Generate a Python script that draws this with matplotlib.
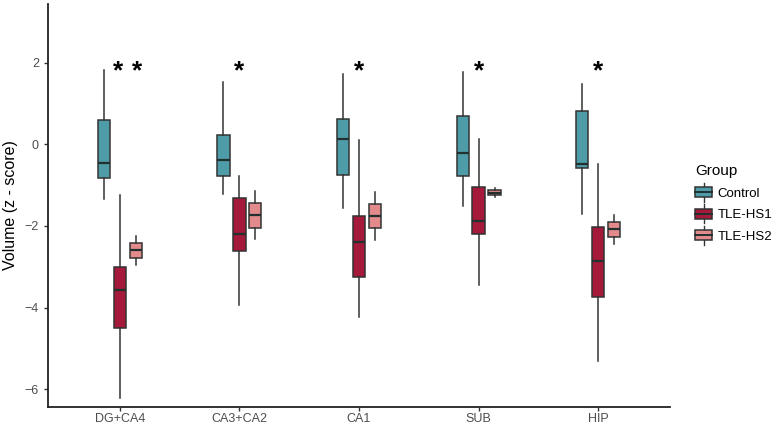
import matplotlib
matplotlib.use("Agg")
import matplotlib.pyplot as plt
from matplotlib.patches import Rectangle
from matplotlib.lines import Line2D
from matplotlib.legend_handler import HandlerBase

plt.rcParams['font.family'] = ['Liberation Sans', 'DejaVu Sans']

regions = ["DG+CA4", "CA3+CA2", "CA1", "SUB", "HIP"]
groups = ["Control", "TLE-HS1", "TLE-HS2"]
colors = ["#4E9CA8", "#A5193A", "#E38A8C"]

# five-number summaries per group across regions
control_lo  = [-1.35, -1.22, -1.57, -1.50, -1.71]
control_q1  = [-0.83, -0.78, -0.74, -0.77, -0.57]
control_med = [-0.45, -0.38, 0.12, -0.22, -0.47]
control_q3  = [0.59, 0.22, 0.61, 0.69, 0.81]
control_hi  = [1.82, 1.53, 1.72, 1.77, 1.49]

hs1_lo  = [-6.21, -3.94, -4.24, -3.45, -5.32]
hs1_q1  = [-4.49, -2.62, -3.25, -2.20, -3.75]
hs1_med = [-3.57, -2.20, -2.39, -1.87, -2.85]
hs1_q3  = [-3.01, -1.32, -1.76, -1.05, -2.03]
hs1_hi  = [-1.25, -0.78, 0.11, 0.12, -0.48]

hs2_lo  = [-2.96, -2.33, -2.35, -1.29, -2.45]
hs2_q1  = [-2.78, -2.05, -2.05, -1.25, -2.28]
hs2_med = [-2.60, -1.73, -1.75, -1.19, -2.08]
hs2_q3  = [-2.41, -1.44, -1.46, -1.13, -1.90]
hs2_hi  = [-2.24, -1.15, -1.16, -1.08, -1.72]

# significance markers: (region index, group index)
star_region = [0, 0, 1, 2, 3, 4]
star_group = [1, 2, 1, 1, 1, 1]
star_y = 1.8

summaries = [
    (control_lo, control_q1, control_med, control_q3, control_hi),
    (hs1_lo, hs1_q1, hs1_med, hs1_q3, hs1_hi),
    (hs2_lo, hs2_q1, hs2_med, hs2_q3, hs2_hi),
]

fig = plt.figure(figsize=(7.72, 4.25), dpi=100)
ax = fig.add_axes([48/772, 1-406.7/425, (670-48)/772, (406.7-4)/425])

edge = "#333333"
offset = 0.133
bw = 0.103
for gi, (lo, q1, med, q3, hi) in enumerate(summaries):
    stats = []
    for i in range(len(regions)):
        stats.append(dict(whislo=lo[i], q1=q1[i], med=med[i], q3=q3[i], whishi=hi[i], fliers=[]))
    pos = [i + 1 + (gi - 1) * offset for i in range(len(regions))]
    ax.bxp(stats, positions=pos, widths=bw, showcaps=False, showfliers=False,
           patch_artist=True, manage_ticks=False,
           boxprops=dict(facecolor=colors[gi], edgecolor=edge, linewidth=1.1),
           medianprops=dict(color="#22302f", linewidth=1.6),
           whiskerprops=dict(color=edge, linewidth=1.1))

star_dx = [-0.01, 0.01, 0, 0, 0, 0]
for r, g, dx in zip(star_region, star_group, star_dx):
    ax.text(r + 1 + (g - 1) * offset + dx, star_y, "*", ha="center", va="center",
            fontsize=19, fontweight="bold", color="black")

ax.set_xlim(0.4, 5.6)
ax.set_ylim(-6.43, 3.44)
ax.set_xticks(range(1, len(regions) + 1))
ax.set_xticklabels(regions)
ax.set_yticks([-6, -4, -2, 0, 2])
ax.tick_params(axis="both", labelsize=9, length=3, width=1,
               colors="#333333", labelcolor="#4d4d4d")
ax.tick_params(axis="x", pad=1.5)
for s in ["top", "right"]:
    ax.spines[s].set_visible(False)
for s in ["left", "bottom"]:
    ax.spines[s].set_color("#222222")
    ax.spines[s].set_linewidth(1.3)
ax.set_ylabel("Volume (z - score)", fontsize=11.5, labelpad=5)


class BoxHandler(HandlerBase):
    def __init__(self, color):
        super().__init__()
        self.color = color

    def create_artists(self, legend, orig_handle, xdescent, ydescent, width, height, fontsize, trans):
        cx = width / 2 - xdescent
        bh = height * 0.75
        by = (height - bh) / 2 - ydescent
        rect = Rectangle((-xdescent, by), width, bh, facecolor=self.color,
                         edgecolor=edge, linewidth=1.1, transform=trans)
        mid = Line2D([-xdescent, width - xdescent], [by + bh / 2] * 2,
                     color="#22302f", linewidth=1.4, transform=trans)
        w1 = Line2D([cx, cx], [by + bh, height - ydescent + height * 0.2], color=edge,
                    linewidth=1.0, transform=trans)
        w2 = Line2D([cx, cx], [-ydescent - height * 0.2, by], color=edge,
                    linewidth=1.0, transform=trans)
        return [w1, w2, rect, mid]


handles = [Rectangle((0, 0), 1, 1) for _ in groups]
hmap = {h: BoxHandler(c) for h, c in zip(handles, colors)}
leg = fig.legend(handles, groups, handler_map=hmap, title="Group",
                 loc="upper left", bbox_to_anchor=(686/772, 1-155/425),
                 frameon=False, fontsize=9.5, title_fontsize=11,
                 handlelength=1.3, handleheight=1.2, handletextpad=0.4,
                 labelspacing=0.55, borderpad=0.2)
leg._legend_box.align = "left"

fig.savefig("out.png", dpi=100)
